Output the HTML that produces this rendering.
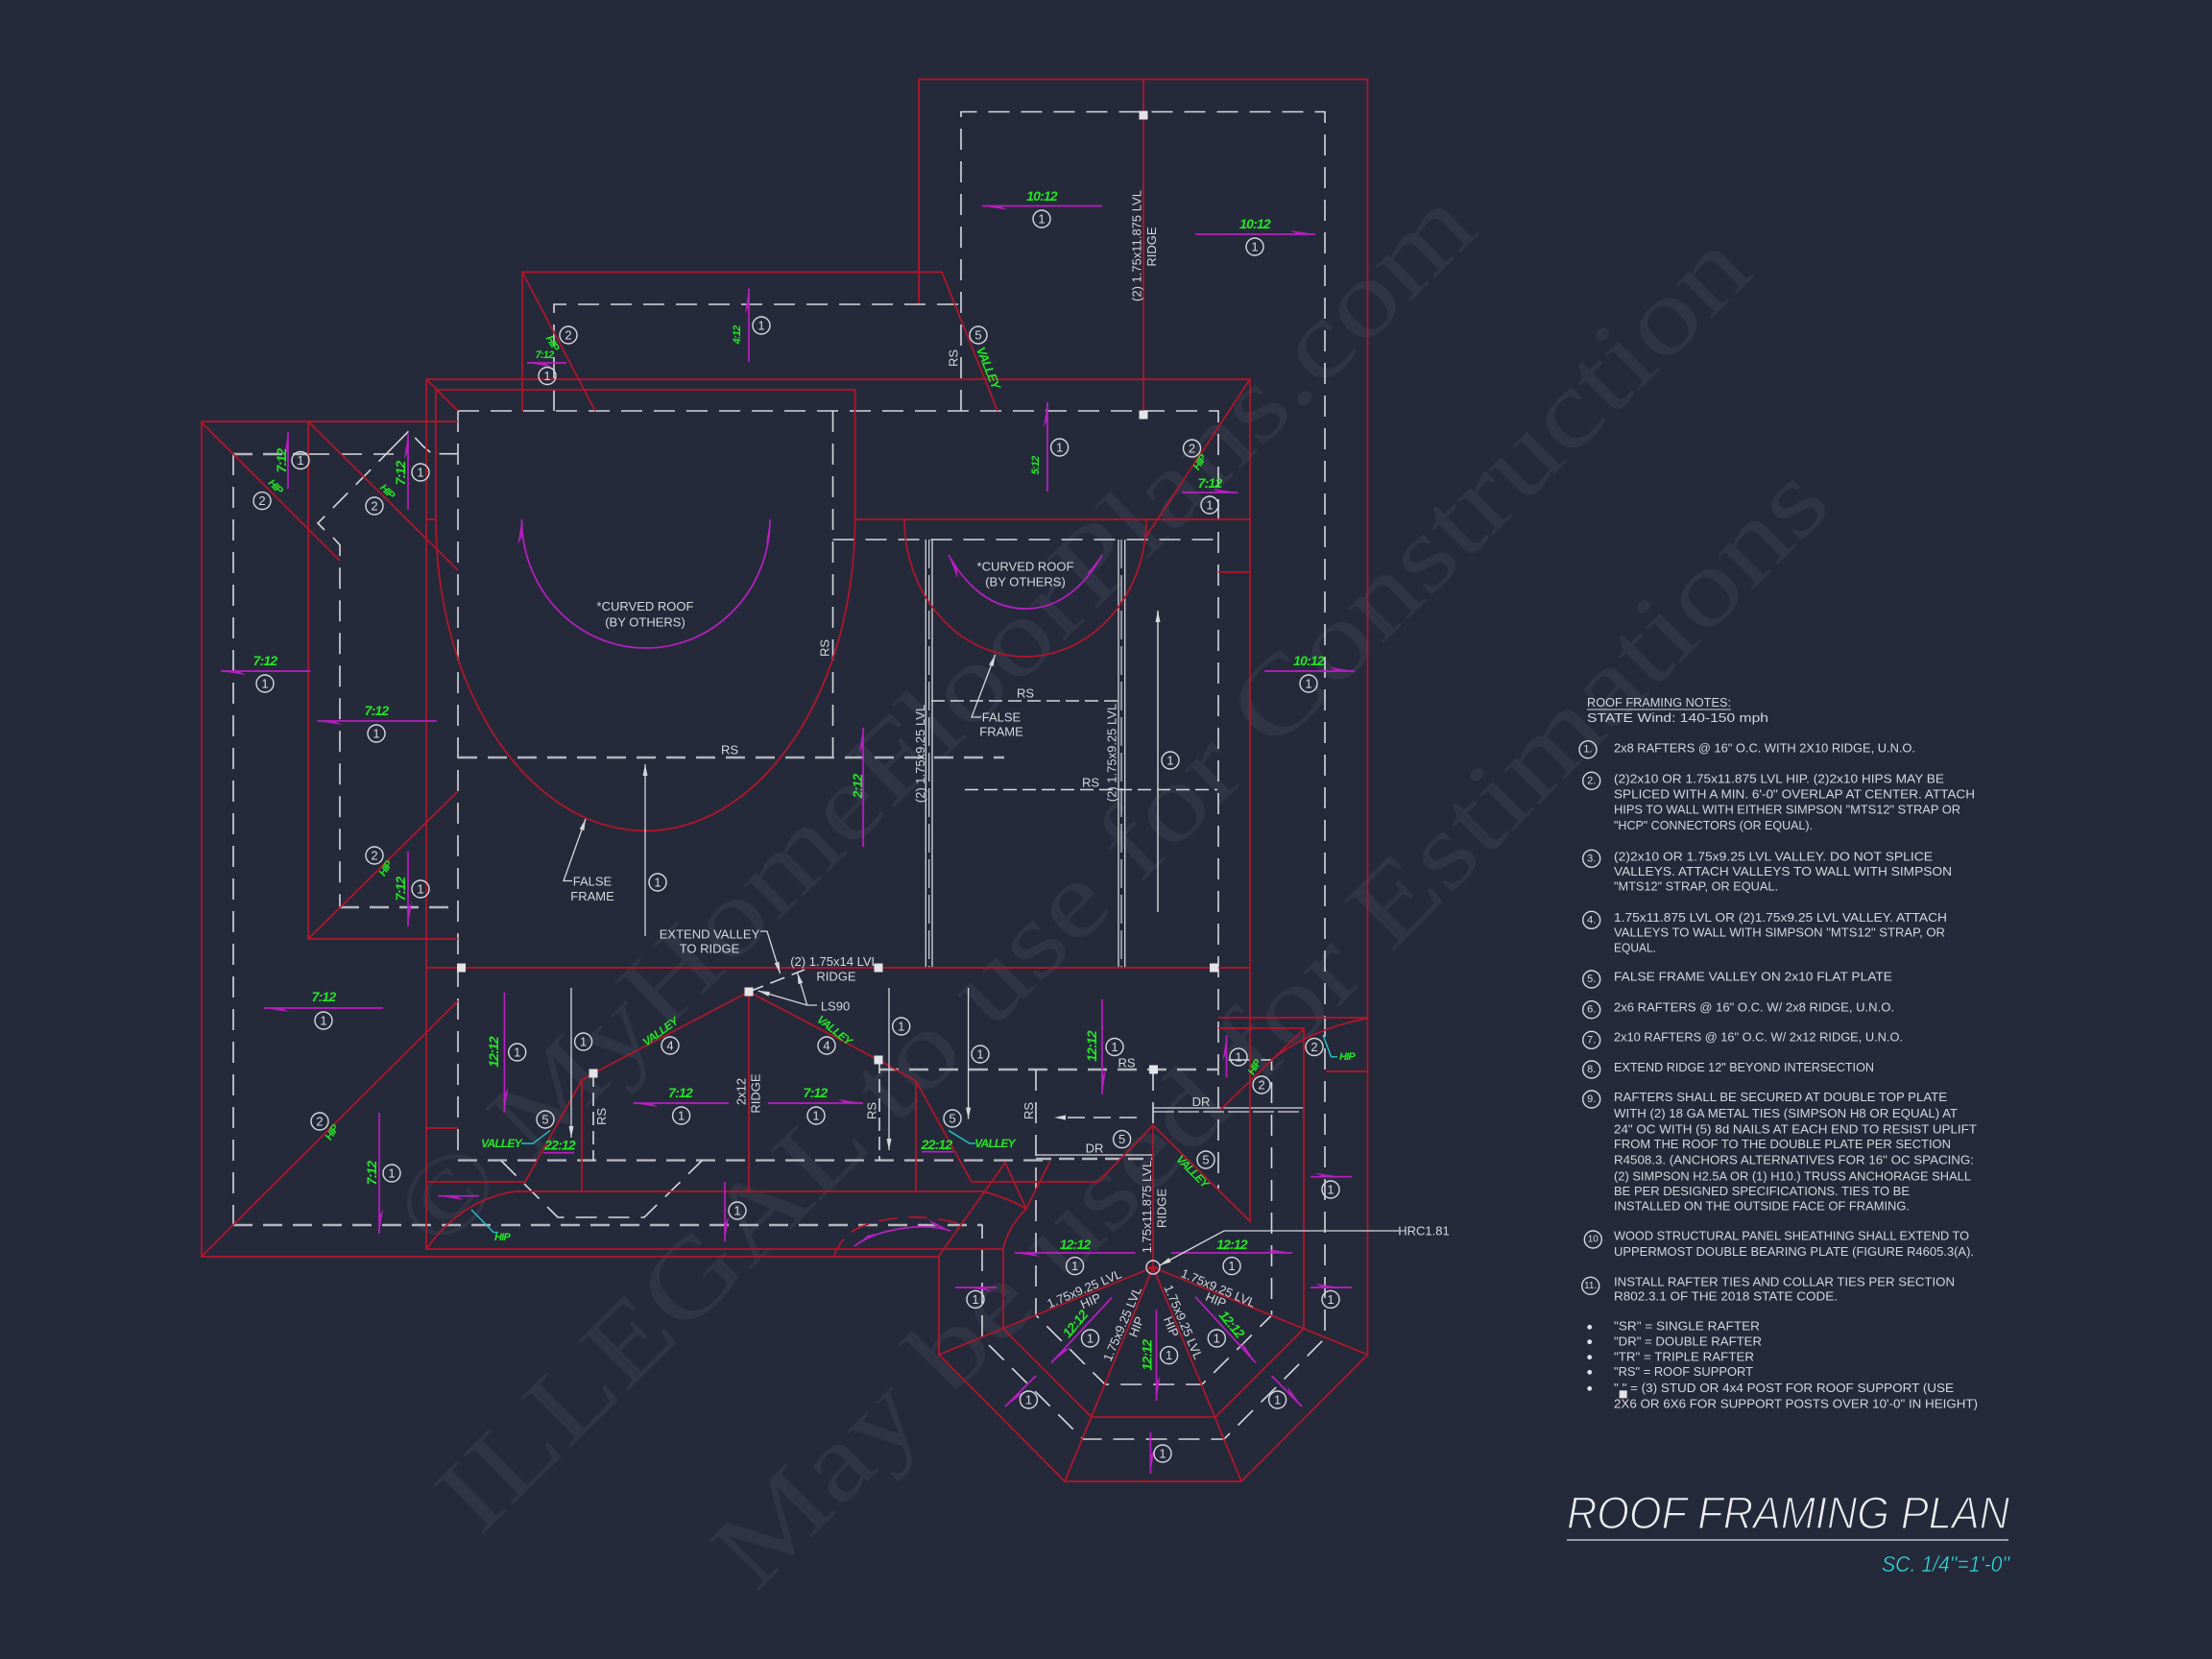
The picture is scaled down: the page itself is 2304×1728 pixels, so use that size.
<!DOCTYPE html>
<html><head><meta charset="utf-8"><title>Roof Framing Plan</title>
<style>
html,body{margin:0;padding:0;background:#252a3b;width:2304px;height:1728px;overflow:hidden}
svg{display:block;font-family:"Liberation Sans",sans-serif}
.r{fill:none;stroke:#b5152b;stroke-width:1.7}
.d{fill:none;stroke:#d6d8dc;stroke-width:1.6;stroke-dasharray:22 12}
.e{fill:none;stroke:#b4b6bc;stroke-width:2.4;stroke-dasharray:20 11}
.w{fill:none;stroke:#d6d8dc;stroke-width:1.3}
.ma{fill:none;stroke:#b81fc0;stroke-width:1.7;marker-end:url(#mh)}
.mm{fill:none;stroke:#b81fc0;stroke-width:1.7;marker-mid:url(#mh)}
.mp{fill:none;stroke:#b81fc0;stroke-width:1.7}
.wa{fill:none;stroke:#d6d8dc;stroke-width:1.3;marker-end:url(#wh)}
.cy{fill:none;stroke:#22c4c8;stroke-width:1.4}
.c circle{fill:none;stroke:#d6d8dc;stroke-width:1.4}
.c text,.t{fill:#d6d8dc;font-size:13px;text-anchor:middle;dominant-baseline:central}
.g{fill:#22e622;font-size:14px;letter-spacing:-.8px;font-weight:bold;font-style:italic;text-anchor:middle;dominant-baseline:central}
.n{fill:#d4d6dc;font-size:12.5px;dominant-baseline:central}
.wm{fill:#fff;opacity:.05;font-family:"Liberation Serif",serif;font-size:112px}
.s{fill:#e4e4e8}
</style></head><body>
<svg width="2304" height="1728" viewBox="0 0 2304 1728" xmlns="http://www.w3.org/2000/svg">
<defs>
<marker id="mh" markerUnits="userSpaceOnUse" viewBox="0 0 26 8" refX="26" refY="4" markerWidth="26" markerHeight="8" orient="auto"><polygon points="26,4 0,0 8,4" fill="#b81fc0"/></marker>
<marker id="wh" markerUnits="userSpaceOnUse" viewBox="0 0 12 6" refX="12" refY="3" markerWidth="12" markerHeight="6" orient="auto"><polygon points="12,3 0,0.5 0,5.5" fill="#d6d8dc"/></marker>
</defs>
<rect width="2304" height="1728" fill="#252a3b"/>

<!-- watermark -->
<text class="wm" transform="translate(455 1307) rotate(-44.4)" textLength="1522" lengthAdjust="spacingAndGlyphs">© MyHomeFloorPlans.com</text>
<text class="wm" transform="translate(499 1602) rotate(-44.7)" textLength="1871" lengthAdjust="spacingAndGlyphs">ILLEGAL to use for Construction</text>
<text class="wm" transform="translate(787 1660) rotate(-45.2)" textLength="1594" lengthAdjust="spacingAndGlyphs">May be used for Estimations</text>

<!-- dashed framing -->
<g>
<path class="d" d="M1001 428V116.5H1380V1394L1275 1499H1128L1023 1394V1275.5"/>
<path class="d" d="M577 428V317H1001"/>
<path class="d" d="M477 428H1269V1238"/>
<path class="d" d="M477 428V1208"/>
<path class="d" d="M867.5 428V789"/>
<path class="d" d="M867.5 562H1269"/>
<path class="d" d="M970 730H1165" style="stroke-dasharray:14 6;stroke-width:1.4"/>
<path class="d" d="M1005 822.5H1268" style="stroke-dasharray:14 6;stroke-width:1.4"/>
<path class="e" d="M477 789H1046"/>
<path class="e" d="M243 473H321"/>
<path class="d" d="M321 473H410"/>
<path class="d" d="M243 473V1276"/>
<path class="d" d="M410 465L331 545L338 552M347 560L354 567.7V945"/>
<path class="d" d="M410 465L425.7 449L441 465L450 472.7H477" style="stroke-dasharray:22 10"/>
<path class="e" d="M354 945H477"/>
<path class="e" d="M243 1276H1023"/>
<path class="e" d="M477 1208.6H1094"/>
<path class="e" d="M916 1114H1269"/>
<path class="d" d="M522 1209L581 1268H671L731 1209"/>
<path class="d" d="M1079 1114V1370L1151 1442H1252L1324.5 1370V1104H1269"/>
<path class="d" d="M1201 1114V1172"/>
<path class="d" d="M618 1118V1209M916 1104V1209" style="stroke-dasharray:14 6"/>
<path class="d" d="M1201 1154H1358" style="stroke-width:1.3;stroke-dasharray:none"/>
<path class="d" d="M1201 1158H1358" style="stroke-width:1.3;stroke-dasharray:22 4"/>
<path class="d" d="M1079 1203H1201" style="stroke-width:1.3;stroke-dasharray:none"/>
<path class="e" d="M1079 1207H1201" style="stroke-dasharray:16 8"/>
<path class="d" d="M1184 1164H1108" style="stroke-dasharray:18 9"/>
<polygon points="1098,1164 1110,1161.5 1110,1166.5" fill="#d6d8dc"/>
<path class="w" d="M964.3 562V1008M971 562V1008M1165 562V1008M1171.7 562V1008"/>
<path class="d" d="M967.7 562V1008M1168 562V1008" style="stroke-width:1.2;stroke-dasharray:30 7"/>
<path class="d" d="M780 1033L838 1010" style="stroke-dasharray:16 8"/>
</g>

<!-- red framing -->
<g>
<path class="r" d="M957 316V82.5H1424.5V1411L1293 1543H1109L978 1411V1309H210V439H477"/>
<path class="r" d="M544 428V283.4H981L1039 428"/>
<path class="r" d="M544 283.4L620 428"/>
<path class="r" d="M209 439L354 584"/>
<path class="r" d="M321 439V978H477M321 978L477 824M321 439L477 594"/>
<path class="r" d="M210 1308.6L477 1042.5"/>
<path class="r" d="M444 395H1302V1272L1201 1172L1144 1231H1012L954 1126L915 1104L780 1033L618 1118L606 1125L547 1231H444"/>
<path class="r" d="M444 395V1301H1045M444 395L477 428"/>
<path class="r" d="M454 541V406H890.5V541"/>
<path class="r" d="M454 541A218 324 0 0 0 890.5 541"/>
<path class="r" d="M890.5 541H1302"/>
<path class="r" d="M942 541A126 143 0 0 0 1194 541"/>
<path class="r" d="M1302 395L1193 560M1269 596H1302"/>
<path class="r" d="M444 541H454M444 1008H1302M444 1175H477"/>
<path class="r" d="M606 1125V1241M780 1033V1241M954 1126V1241"/>
<path class="r" d="M444 1301Q480 1250 536 1241H1024Q1050 1248 1069 1259"/>
<path class="r" d="M1269 1060H1424M1269 1071H1358V1384M1271 1156L1358 1072M1324 1104Q1365 1072 1424.5 1060.5M1381 1116H1424.5"/>
<path class="r" d="M1201 1320L978 1411M1201 1320L1109 1543M1201 1320L1293 1543M1201 1320L1424.5 1411"/>
<path class="r" d="M1045 1384L1137 1476H1266L1358 1384"/>
<path class="r" d="M1045 1384V1300Q1050 1278 1069 1259L1094 1209M1069 1259L1047 1211L978 1308"/>
<path class="r" d="M1201 1172V1320M1191 82.5V428"/>
<path class="r" d="M869 1308Q878 1282 905 1275Q950 1260 1006 1276" style="stroke-dasharray:20 11"/>
<path class="r" d="M1196 1320H1206M1201 1315V1325"/>
</g>

<!-- magenta arcs -->
<path class="ma" d="M672 675A129 134 0 0 1 543.5 541"/>
<path class="ma" d="M672 675A129 134 0 0 0 802 541"/>
<path class="ma" d="M1068 634Q1020 634 988 578"/>
<path class="ma" d="M1068 634Q1116 634 1148 578"/>
<path class="ma" d="M952 1278Q910 1282 890 1298"/>
<path class="ma" d="M952 1278Q975 1277 990 1282"/>

<!-- magenta arrows (tail to tip) -->
<g>
<path class="ma" d="M1148 214.5H1023"/>
<path class="ma" d="M1245 244H1370"/>
<path class="ma" d="M780 377V300.5"/>
<path class="ma" d="M1091 512V419"/>
<path class="ma" d="M1231 513H1289"/>
<path class="ma" d="M1317 699H1411"/>
<path class="ma" d="M323.5 699H230"/>
<path class="ma" d="M455 751H330.5"/>
<path class="ma" d="M300 509V450"/>
<path class="ma" d="M425 531V452"/>
<path class="ma" d="M590 378H549"/>
<path class="ma" d="M899 882V758"/>
<path class="ma" d="M399 1050H275"/>
<path class="ma" d="M395 1159V1285"/>
<path class="ma" d="M425 887V965"/>
<path class="ma" d="M525.4 1033.6V1158.6"/>
<path class="ma" d="M759 1149H659.6"/>
<path class="ma" d="M800 1149H899"/>
<path class="mp" d="M566 1200.7H598M960 1199.6H993"/>
<path class="ma" d="M1148 1041V1140"/>
<path class="ma" d="M1277.5 1122V1078.6"/>
<path class="mm" d="M1365 1225.7H1396H1408"/>
<path class="mm" d="M1365 1341H1396H1408"/>
<path class="mm" d="M1038 1341H1007H995"/>
<path class="ma" d="M1182.5 1305H1057"/>
<path class="ma" d="M1220 1305H1346"/>
<path class="ma" d="M1158 1351.5L1095 1419.5"/>
<path class="ma" d="M1204.5 1364.5V1459"/>
<path class="ma" d="M1245 1350.7L1308 1419.5"/>
<path class="ma" d="M1079 1433L1047 1465"/>
<path class="ma" d="M1324.5 1433L1356 1465"/>
<path class="ma" d="M1198.4 1492V1535"/>
<path class="ma" d="M499 1245.7H456.5"/>
<path class="ma" d="M755 1231V1293"/>
</g>

<!-- white arrows & leaders -->
<g>
<path class="wa" d="M1206 950V636" style="stroke:#b8bac0;stroke-width:1.7"/>
<path class="wa" d="M672 975V796"/>
<path class="wa" d="M595 1029V1185"/>
<path class="wa" d="M926 1029V1198"/>
<path class="wa" d="M1008.6 1029V1165.6"/>
<path class="wa" d="M1022 747H1012L1036.6 682"/>
<path class="wa" d="M596 917.5H587L610 853"/>
<path class="wa" d="M792 970H799L812.6 1014"/>
<path class="wa" d="M851 1047H840.7L789.7 1032"/>
<path class="wa" d="M840.7 1047L830.5 1013"/>
<path class="wa" d="M1457 1282H1275L1208 1318"/>
<path class="cy" d="M543 1191H555L573 1177.5"/>
<path class="cy" d="M1016 1191H1010L988 1177.5"/>
<path class="cy" d="M1393 1100.8H1386.5L1378 1078"/>
<path class="cy" d="M519 1283.6H514L491 1260"/>
</g>

<!-- post squares -->
<g class="s">
<rect x="1186.5" y="115.5" width="9" height="9"/><rect x="1186.5" y="427.5" width="9" height="9"/>
<rect x="476" y="1003.5" width="9" height="9"/><rect x="910.5" y="1003.5" width="9" height="9"/>
<rect x="1260" y="1003.5" width="9" height="9"/><rect x="613.5" y="1113.5" width="9" height="9"/>
<rect x="775.5" y="1028.5" width="9" height="9"/><rect x="910.5" y="1099.5" width="9" height="9"/>
<rect x="1197" y="1109.5" width="9" height="9"/>
</g>

<!-- numbered circles -->
<g class="c">
<circle cx="1085" cy="228" r="9"/><text x="1085" y="228">1</text>
<circle cx="1307" cy="257" r="9"/><text x="1307" y="257">1</text>
<circle cx="793" cy="339" r="9"/><text x="793" y="339">1</text>
<circle cx="1103.6" cy="466" r="9"/><text x="1103.6" y="466">1</text>
<circle cx="1260" cy="526" r="9"/><text x="1260" y="526">1</text>
<circle cx="1241.5" cy="467" r="9"/><text x="1241.5" y="467">2</text>
<circle cx="1363" cy="712" r="9"/><text x="1363" y="712">1</text>
<circle cx="276" cy="712" r="9"/><text x="276" y="712">1</text>
<circle cx="392" cy="764" r="9"/><text x="392" y="764">1</text>
<circle cx="313" cy="479.5" r="9"/><text x="313" y="479.5">1</text>
<circle cx="438" cy="492" r="9"/><text x="438" y="492">1</text>
<circle cx="570" cy="391.5" r="9"/><text x="570" y="391.5">1</text>
<circle cx="592" cy="349" r="9"/><text x="592" y="349">2</text>
<circle cx="273" cy="521.6" r="9"/><text x="273" y="521.6">2</text>
<circle cx="390" cy="527" r="9"/><text x="390" y="527">2</text>
<circle cx="1019" cy="349" r="9"/><text x="1019" y="349">5</text>
<circle cx="1219" cy="792" r="9"/><text x="1219" y="792">1</text>
<circle cx="685" cy="919" r="9"/><text x="685" y="919">1</text>
<circle cx="337" cy="1063" r="9"/><text x="337" y="1063">1</text>
<circle cx="408" cy="1222" r="9"/><text x="408" y="1222">1</text>
<circle cx="333" cy="1168" r="9"/><text x="333" y="1168">2</text>
<circle cx="390" cy="891" r="9"/><text x="390" y="891">2</text>
<circle cx="438" cy="926" r="9"/><text x="438" y="926">1</text>
<circle cx="538.7" cy="1096" r="9"/><text x="538.7" y="1096">1</text>
<circle cx="607.6" cy="1085" r="9"/><text x="607.6" y="1085">1</text>
<circle cx="568" cy="1166" r="9"/><text x="568" y="1166">5</text>
<circle cx="698" cy="1089" r="9"/><text x="698" y="1089">4</text>
<circle cx="861" cy="1089" r="9"/><text x="861" y="1089">4</text>
<circle cx="709.6" cy="1162" r="9"/><text x="709.6" y="1162">1</text>
<circle cx="850" cy="1162" r="9"/><text x="850" y="1162">1</text>
<circle cx="938.7" cy="1069" r="9"/><text x="938.7" y="1069">1</text>
<circle cx="1021" cy="1098" r="9"/><text x="1021" y="1098">1</text>
<circle cx="1161" cy="1090.5" r="9"/><text x="1161" y="1090.5">1</text>
<circle cx="992" cy="1165" r="9"/><text x="992" y="1165">5</text>
<circle cx="1168.6" cy="1186.6" r="9"/><text x="1168.6" y="1186.6">5</text>
<circle cx="1256" cy="1208" r="9"/><text x="1256" y="1208">5</text>
<circle cx="1290" cy="1101" r="9"/><text x="1290" y="1101">1</text>
<circle cx="1314" cy="1130" r="9"/><text x="1314" y="1130">2</text>
<circle cx="1369" cy="1090.5" r="9"/><text x="1369" y="1090.5">2</text>
<circle cx="1386" cy="1239" r="9"/><text x="1386" y="1239">1</text>
<circle cx="1386" cy="1353.4" r="9"/><text x="1386" y="1353.4">1</text>
<circle cx="1016" cy="1353.4" r="9"/><text x="1016" y="1353.4">1</text>
<circle cx="1119.6" cy="1318.6" r="9"/><text x="1119.6" y="1318.6">1</text>
<circle cx="1283" cy="1318.6" r="9"/><text x="1283" y="1318.6">1</text>
<circle cx="1135.5" cy="1394" r="9"/><text x="1135.5" y="1394">1</text>
<circle cx="1217.6" cy="1411.6" r="9"/><text x="1217.6" y="1411.6">1</text>
<circle cx="1267.3" cy="1394" r="9"/><text x="1267.3" y="1394">1</text>
<circle cx="1071.4" cy="1458" r="9"/><text x="1071.4" y="1458">1</text>
<circle cx="1330.6" cy="1458" r="9"/><text x="1330.6" y="1458">1</text>
<circle cx="1211" cy="1514" r="9"/><text x="1211" y="1514">1</text>
<circle cx="768" cy="1261" r="9"/><text x="768" y="1261">1</text>
<circle cx="1201" cy="1320" r="7"/>
</g>

<!-- green pitch labels -->
<g class="g">
<text x="1085" y="204">10:12</text>
<text x="1307" y="233">10:12</text>
<text x="1363" y="688">10:12</text>
<text x="276" y="688">7:12</text>
<text x="392" y="740">7:12</text>
<text x="567" y="370" style="font-size:11px">7:12</text>
<text x="1260" y="503">7:12</text>
<text x="337" y="1038">7:12</text>
<text x="708.6" y="1138">7:12</text>
<text x="849" y="1138">7:12</text>
<text x="583" y="1192.5">22:12</text>
<text x="975.5" y="1192">22:12</text>
<text x="1119.6" y="1296">12:12</text>
<text x="1283" y="1296">12:12</text>
<text x="768" y="349" transform="rotate(-90 768 349)" style="font-size:11px">4:12</text>
<text x="1079" y="485" transform="rotate(-90 1079 485)" style="font-size:11px">5:12</text>
<text x="293" y="480" transform="rotate(-90 293 480)">7:12</text>
<text x="417" y="493" transform="rotate(-90 417 493)">7:12</text>
<text x="893" y="819" transform="rotate(-90 893 819)">2:12</text>
<text x="387" y="1222" transform="rotate(-90 387 1222)">7:12</text>
<text x="417" y="926" transform="rotate(-90 417 926)">7:12</text>
<text x="514" y="1096" transform="rotate(-90 514 1096)">12:12</text>
<text x="1137" y="1090" transform="rotate(-90 1137 1090)">12:12</text>
<text x="1194.7" y="1411.6" transform="rotate(-90 1194.7 1411.6)">12:12</text>
<text x="1119.6" y="1379" transform="rotate(-50 1119.6 1379)">12:12</text>
<text x="1283" y="1379" transform="rotate(50 1283 1379)">12:12</text>
<text x="575" y="357.5" transform="rotate(60 575 357.5)" style="font-size:11px">HIP</text>
<text x="286.5" y="507" transform="rotate(45 286.5 507)" style="font-size:11px">HIP</text>
<text x="403" y="512" transform="rotate(45 403 512)" style="font-size:11px">HIP</text>
<text x="1250" y="482" transform="rotate(-58 1250 482)" style="font-size:11px">HIP</text>
<text x="346" y="1180" transform="rotate(-58 346 1180)" style="font-size:11px">HIP</text>
<text x="402" y="905" transform="rotate(-58 402 905)" style="font-size:11px">HIP</text>
<text x="1307" y="1112" transform="rotate(-60 1307 1112)" style="font-size:11px">HIP</text>
<text x="1403" y="1100.8" style="font-size:11px">HIP</text>
<text x="523" y="1289" style="font-size:11px">HIP</text>
<text x="1029.5" y="383" transform="rotate(68 1029.5 383)" style="font-size:13px">VALLEY</text>
<text x="687.6" y="1074.6" transform="rotate(-36 687.6 1074.6)" style="font-size:12px">VALLEY</text>
<text x="869" y="1073" transform="rotate(38 869 1073)" style="font-size:12px">VALLEY</text>
<text x="522" y="1191" style="font-size:12px">VALLEY</text>
<text x="1036" y="1191" style="font-size:12px">VALLEY</text>
<text x="1242" y="1220" transform="rotate(45 1242 1220)" style="font-size:12px">VALLEY</text>
</g>

<!-- white labels -->
<g class="t">
<text x="1184" y="256" transform="rotate(-90 1184 256)">(2) 1.75x11.875 LVL</text>
<text x="1199.5" y="257" transform="rotate(-90 1199.5 257)">RIDGE</text>
<text x="993" y="373" transform="rotate(-90 993 373)">RS</text>
<text x="672" y="631.6">*CURVED ROOF</text>
<text x="672" y="648">(BY OTHERS)</text>
<text x="1068" y="590">*CURVED ROOF</text>
<text x="1068" y="606">(BY OTHERS)</text>
<text x="859" y="675" transform="rotate(-90 859 675)">RS</text>
<text x="760" y="781">RS</text>
<text x="1068" y="722">RS</text>
<text x="1136" y="815">RS</text>
<text x="1043" y="747">FALSE</text>
<text x="1043" y="762">FRAME</text>
<text x="617" y="918">FALSE</text>
<text x="617" y="933.5">FRAME</text>
<text x="958.3" y="785" transform="rotate(-90 958.3 785)">(2) 1.75x9.25 LVL</text>
<text x="1158" y="784" transform="rotate(-90 1158 784)">(2) 1.75x9.25 LVL</text>
<text x="739" y="973">EXTEND VALLEY</text>
<text x="739" y="988">TO RIDGE</text>
<text x="869" y="1001.5">(2) 1.75x14 LVL</text>
<text x="871" y="1017">RIDGE</text>
<text x="870" y="1048">LS90</text>
<text x="626.4" y="1163" transform="rotate(-90 626.4 1163)">RS</text>
<text x="908" y="1157" transform="rotate(-90 908 1157)">RS</text>
<text x="1071.4" y="1157" transform="rotate(-90 1071.4 1157)">RS</text>
<text x="772" y="1137" transform="rotate(-90 772 1137)">2x12</text>
<text x="787" y="1139" transform="rotate(-90 787 1139)">RIDGE</text>
<text x="1173.5" y="1107">RS</text>
<text x="1140" y="1196">DR</text>
<text x="1251" y="1147.4">DR</text>
<text x="1194.7" y="1257" transform="rotate(-90 1194.7 1257)">1.75x11.875 LVL</text>
<text x="1210" y="1258.5" transform="rotate(-90 1210 1258.5)">RIDGE</text>
<text x="1129.4" y="1342.4" transform="rotate(-23 1129.4 1342.4)">1.75x9.25 LVL</text>
<text x="1136" y="1355" transform="rotate(-23 1136 1355)">HIP</text>
<text x="1169" y="1379" transform="rotate(-67 1169 1379)">1.75x9.25 LVL</text>
<text x="1183.7" y="1382" transform="rotate(-68 1183.7 1382)">HIP</text>
<text x="1232.6" y="1377" transform="rotate(67 1232.6 1377)">1.75x9.25 LVL</text>
<text x="1220" y="1382" transform="rotate(68 1220 1382)">HIP</text>
<text x="1269" y="1341.6" transform="rotate(23 1269 1341.6)">1.75x9.25 LVL</text>
<text x="1266.5" y="1354" transform="rotate(23 1266.5 1354)">HIP</text>
<text x="1483" y="1282">HRC1.81</text>
</g>

<!-- notes -->
<g class="n">
<text x="1653" y="732" textLength="150" lengthAdjust="spacingAndGlyphs">ROOF FRAMING NOTES:</text>
<path d="M1653 739H1803" stroke="#d4d6dc" stroke-width="1"/>
<text x="1653" y="748" textLength="189" lengthAdjust="spacingAndGlyphs">STATE Wind: 140-150 mph</text>
<text x="1681" y="779.7" textLength="314" lengthAdjust="spacingAndGlyphs">2x8 RAFTERS @ 16" O.C. WITH 2X10 RIDGE, U.N.O.</text>
<text x="1681" y="811.7" textLength="344" lengthAdjust="spacingAndGlyphs">(2)2x10 OR 1.75x11.875 LVL HIP.  (2)2x10 HIPS MAY BE</text>
<text x="1681" y="827.3" textLength="376" lengthAdjust="spacingAndGlyphs">SPLICED WITH A MIN. 6'-0" OVERLAP AT CENTER. ATTACH</text>
<text x="1681" y="843.3" textLength="361" lengthAdjust="spacingAndGlyphs">HIPS TO WALL WITH EITHER SIMPSON "MTS12" STRAP OR</text>
<text x="1681" y="860" textLength="207" lengthAdjust="spacingAndGlyphs">"HCP" CONNECTORS (OR EQUAL).</text>
<text x="1681" y="892.3" textLength="332" lengthAdjust="spacingAndGlyphs">(2)2x10 OR 1.75x9.25 LVL VALLEY.  DO NOT SPLICE</text>
<text x="1681" y="908" textLength="352" lengthAdjust="spacingAndGlyphs">VALLEYS.  ATTACH VALLEYS TO WALL WITH  SIMPSON</text>
<text x="1681" y="923.7" textLength="171" lengthAdjust="spacingAndGlyphs">"MTS12" STRAP, OR EQUAL.</text>
<text x="1681" y="956" textLength="347" lengthAdjust="spacingAndGlyphs">1.75x11.875 LVL OR (2)1.75x9.25 LVL VALLEY.  ATTACH</text>
<text x="1681" y="971.7" textLength="345" lengthAdjust="spacingAndGlyphs">VALLEYS TO WALL WITH SIMPSON "MTS12" STRAP, OR</text>
<text x="1681" y="987.3" textLength="44" lengthAdjust="spacingAndGlyphs">EQUAL.</text>
<text x="1681" y="1017.7" textLength="290" lengthAdjust="spacingAndGlyphs">FALSE FRAME VALLEY ON 2x10 FLAT PLATE</text>
<text x="1681" y="1049.3" textLength="292" lengthAdjust="spacingAndGlyphs">2x6 RAFTERS @ 16" O.C. W/ 2x8 RIDGE, U.N.O.</text>
<text x="1681" y="1080.7" textLength="301" lengthAdjust="spacingAndGlyphs">2x10 RAFTERS @ 16" O.C. W/ 2x12 RIDGE, U.N.O.</text>
<text x="1681" y="1112" textLength="271" lengthAdjust="spacingAndGlyphs">EXTEND RIDGE 12" BEYOND INTERSECTION</text>
<text x="1681" y="1143" textLength="347" lengthAdjust="spacingAndGlyphs">RAFTERS SHALL BE SECURED AT DOUBLE TOP PLATE</text>
<text x="1681" y="1160" textLength="358" lengthAdjust="spacingAndGlyphs">WITH (2) 18 GA METAL TIES (SIMPSON H8 OR EQUAL) AT</text>
<text x="1681" y="1176.3" textLength="378" lengthAdjust="spacingAndGlyphs">24" OC WITH (5) 8d NAILS AT EACH END TO RESIST UPLIFT</text>
<text x="1681" y="1192" textLength="351" lengthAdjust="spacingAndGlyphs">FROM THE ROOF TO THE DOUBLE PLATE PER SECTION</text>
<text x="1681" y="1208.7" textLength="375" lengthAdjust="spacingAndGlyphs">R4508.3. (ANCHORS ALTERNATIVES FOR 16" OC SPACING:</text>
<text x="1681" y="1225.3" textLength="372" lengthAdjust="spacingAndGlyphs">(2) SIMPSON H2.5A OR (1) H10.) TRUSS ANCHORAGE SHALL</text>
<text x="1681" y="1241" textLength="308" lengthAdjust="spacingAndGlyphs">BE PER DESIGNED SPECIFICATIONS. TIES TO BE</text>
<text x="1681" y="1256.7" textLength="308" lengthAdjust="spacingAndGlyphs">INSTALLED ON THE OUTSIDE FACE OF FRAMING.</text>
<text x="1681" y="1287.7" textLength="370" lengthAdjust="spacingAndGlyphs">WOOD STRUCTURAL PANEL SHEATHING SHALL EXTEND TO</text>
<text x="1681" y="1304" textLength="375" lengthAdjust="spacingAndGlyphs">UPPERMOST DOUBLE BEARING PLATE (FIGURE R4605.3(A).</text>
<text x="1681" y="1335.3" textLength="355" lengthAdjust="spacingAndGlyphs">INSTALL RAFTER TIES AND COLLAR TIES PER SECTION</text>
<text x="1681" y="1350.7" textLength="233" lengthAdjust="spacingAndGlyphs">R802.3.1 OF THE 2018 STATE CODE.</text>
<text x="1681" y="1381.7" textLength="152" lengthAdjust="spacingAndGlyphs">"SR"  = SINGLE RAFTER</text>
<text x="1681" y="1397.3" textLength="154" lengthAdjust="spacingAndGlyphs">"DR" = DOUBLE RAFTER</text>
<text x="1681" y="1413.3" textLength="146" lengthAdjust="spacingAndGlyphs">"TR" = TRIPLE RAFTER</text>
<text x="1681" y="1429" textLength="145" lengthAdjust="spacingAndGlyphs">"RS" = ROOF SUPPORT</text>
<text x="1681" y="1446" textLength="354" lengthAdjust="spacingAndGlyphs">"   " = (3) STUD OR 4x4 POST FOR ROOF SUPPORT (USE</text>
<text x="1681" y="1462.7" textLength="379" lengthAdjust="spacingAndGlyphs">2X6 OR 6X6 FOR SUPPORT POSTS OVER 10'-0" IN HEIGHT)</text>
</g>
<rect x="1686.7" y="1448.3" width="8" height="8" fill="#e4e4e8"/>
<g fill="#e4e4e8"><circle cx="1655.7" cy="1382.3" r="2.4"/><circle cx="1655.7" cy="1397.7" r="2.4"/><circle cx="1655.7" cy="1413.7" r="2.4"/><circle cx="1655.7" cy="1429.3" r="2.4"/><circle cx="1655.7" cy="1446.3" r="2.4"/></g>

<!-- note markers -->
<g class="c">
<circle cx="1654" cy="780.7" r="9"/><text x="1654" y="780.7" style="font-size:11px">1.</text>
<circle cx="1657.7" cy="813.3" r="9"/><text x="1657.7" y="813.3" style="font-size:11px">2.</text>
<circle cx="1657.7" cy="894.3" r="9"/><text x="1657.7" y="894.3" style="font-size:11px">3.</text>
<circle cx="1657.7" cy="958.3" r="9"/><text x="1657.7" y="958.3" style="font-size:11px">4.</text>
<circle cx="1657.7" cy="1020" r="9"/><text x="1657.7" y="1020" style="font-size:11px">5.</text>
<circle cx="1657.7" cy="1051.7" r="9"/><text x="1657.7" y="1051.7" style="font-size:11px">6.</text>
<circle cx="1657.7" cy="1083.3" r="9"/><text x="1657.7" y="1083.3" style="font-size:11px">7.</text>
<circle cx="1657.7" cy="1114" r="9"/><text x="1657.7" y="1114" style="font-size:11px">8.</text>
<circle cx="1657.7" cy="1145" r="9"/><text x="1657.7" y="1145" style="font-size:11px">9.</text>
<circle cx="1659.3" cy="1291" r="9"/><text x="1659.3" y="1291" style="font-size:10px">10</text>
<circle cx="1656.7" cy="1339.3" r="9"/><text x="1656.7" y="1339.3" style="font-size:10px">11.</text>
</g>

<!-- title -->
<text x="1632" y="1592" fill="#eeeef2" stroke="#252a3b" stroke-width="1.4" font-size="47" font-style="italic" textLength="461" lengthAdjust="spacingAndGlyphs">ROOF FRAMING PLAN</text>
<path d="M1632 1604H2092" stroke="#9a9cab" stroke-width="2"/>
<text x="1960" y="1637" fill="#2be0e0" stroke="#252a3b" stroke-width=".5" font-size="23" font-style="italic" textLength="133" lengthAdjust="spacingAndGlyphs">SC. 1/4"=1'-0"</text>
</svg>
</body></html>
